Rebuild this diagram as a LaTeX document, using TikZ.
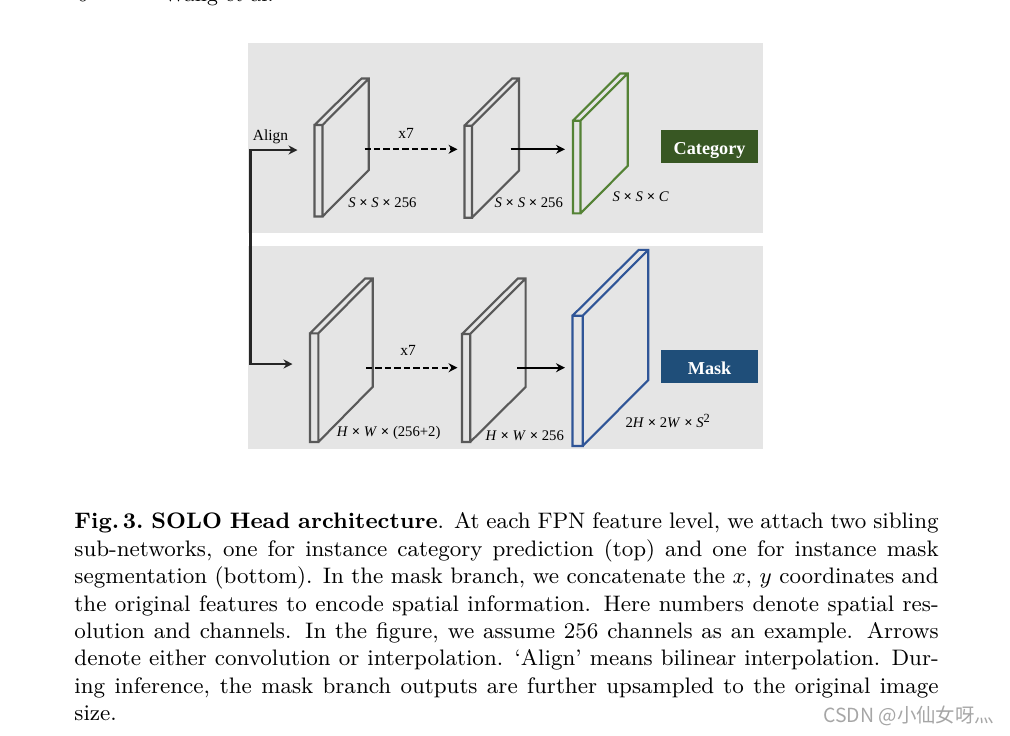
\documentclass[tikz,border=0pt]{standalone}
\usepackage{fontspec}
\newfontfamily\figfont{Liberation Serif}
\newfontfamily\markfont{Noto Sans CJK SC}
\usetikzlibrary{arrows.meta}
\definecolor{panelgray}{HTML}{E5E5E5}
\definecolor{platedark}{HTML}{595959}
\definecolor{plategreen}{HTML}{548235}
\definecolor{plateblue}{HTML}{2F5597}
\definecolor{catfill}{HTML}{385723}
\definecolor{maskfill}{HTML}{1F4E79}
\begin{document}
\begin{tikzpicture}[x=0.4014pt, y=-0.4014pt]
    \tikzstyle{panel} = [fill=panelgray, draw=none]
    \tikzstyle{plate} = [line width=0.85pt, line join=miter]
    \tikzstyle{arrow} = [line width=0.85pt,->,>={Stealth[length=3.6pt,width=3.6pt]}]
    \tikzstyle{dasharrow} = [arrow, dash pattern=on 2.5pt off 1.3pt]
    \tikzstyle{dimtext} = [font=\figfont\fontsize{5.9}{7}\selectfont, inner sep=0pt]
    \tikzstyle{smalltext} = [font=\figfont\fontsize{6.2}{7}\selectfont, inner sep=0pt]
    \tikzstyle{outbox} = [font=\figfont\bfseries\fontsize{7.3}{8}\selectfont, text=white, minimum width=39.2pt, text height=9.8pt, text depth=3.6pt, inner sep=0pt]
    \tikzstyle{headtext} = [anchor=base west, inner sep=0pt, font=\fontsize{8.5}{11}\selectfont]

    \useasboundingbox (0,0) rectangle (1010,735);
    \clip (0,0) rectangle (1010,735);

    % Header
    \node [headtext] (pagenum) at (77,1) {6};
    \node [headtext] (running) at (163,1) {Wang et al.};

    % Panels
    \fill [panel] (248,43) rectangle (763,233);
    \fill [panel] (248,246) rectangle (763,449);

    % Category branch
    \draw [plate, platedark] (314.5,125) rectangle (322.5,216.5) (314.5,125) -- (361.5,78.5) -- (368.8,78.5) -- (368.8,170) -- (322.5,216.5) (322.5,125) -- (368.8,78.5);
    \draw [plate, platedark] (464.5,125.7) rectangle (472,217.7) (464.5,125.7) -- (512,78.5) -- (519,78.5) -- (519,170.7) -- (472,217.7) (472,125.7) -- (519,78.5);
    \draw [plate, plategreen] (573,120.7) rectangle (580.5,213.3) (573,120.7) -- (620,73.5) -- (627.7,73.5) -- (627.7,166) -- (580.5,213.3) (580.5,120.7) -- (627.7,73.5);
    \node [outbox, fill=catfill] (category) at (709.6,146.7) {Category};

    % Mask branch
    \draw [plate, platedark] (310,333.3) rectangle (318.4,442) (310,333.3) -- (365,278.5) -- (372.8,278.5) -- (372.8,386.7) -- (318.4,442) (318.4,333.3) -- (372.8,278.5);
    \draw [plate, platedark] (462,334) rectangle (470.2,442) (462,334) -- (517.8,278.5) -- (525.6,278.5) -- (525.6,387) -- (470.2,442) (470.2,334) -- (525.6,278.5);
    \draw [plate, plateblue] (572.5,315.7) rectangle (582.7,446) (572.5,315.7) -- (638.8,249.8) -- (648.3,249.8) -- (648.3,380) -- (582.7,446) (582.7,315.7) -- (648.3,249.8);
    \node [outbox, fill=maskfill] (mask) at (709.6,366.7) {Mask};

    % Arrow ends
    \coordinate (branch) at (250.5,240);
    \coordinate (aligntop) at (297.5,150);
    \coordinate (alignbot) at (292.5,364);
    \coordinate (catdashs) at (364.5,149.3);
    \coordinate (catdashe) at (457.5,149.3);
    \coordinate (catsolids) at (510.5,149.3);
    \coordinate (catsolide) at (565,149.3);
    \coordinate (maskdashs) at (366,367.7);
    \coordinate (maskdashe) at (457.5,367.7);
    \coordinate (masksolids) at (517,367.7);
    \coordinate (masksolide) at (565,367.7);

    \draw [arrow, <->, black!85] (aligntop) -| (branch) |- (alignbot);
    \draw [dasharrow] (catdashs) -- (catdashe);
    \draw [arrow] (catsolids) -- (catsolide);
    \draw [dasharrow] (maskdashs) -- (maskdashe);
    \draw [arrow] (masksolids) -- (masksolide);

    % Labels
    \node [smalltext] (align) at (270.5,136.5) {Align};
    \node [smalltext] (catseven) at (406,133) {x7};
    \node [smalltext] (maskseven) at (408,350) {x7};
    \node [dimtext] (catdim1) at (382.4,202.5) {\textit{S} {\bfseries×} \textit{S} {\bfseries×} 256};
    \node [dimtext] (catdim2) at (528.8,203) {\textit{S} {\bfseries×} \textit{S} {\bfseries×} 256};
    \node [dimtext] (catdim3) at (640.7,197) {\textit{S} {\bfseries×} \textit{S} {\bfseries×} \textit{C}};
    \node [dimtext] (maskdim1) at (388.7,432.7) {\textit{H} {\bfseries×} \textit{W} {\bfseries×} (256+2)};
    \node [dimtext] (maskdim2) at (524.8,435.7) {\textit{H} {\bfseries×} \textit{W} {\bfseries×} 256};
    \node [dimtext] (maskdim3) at (667.7,421) {2\textit{H} {\bfseries×} 2\textit{W} {\bfseries×} \textit{S}\raisebox{1.8pt}{\fontsize{5}{6}\selectfont 2}};

    % Caption
    \node [anchor=north west, inner sep=0pt, text width=346.9pt, align=justify, font=\fontsize{9}{11}\selectfont] (caption) at (74,512.3) {\textbf{Fig.\,3.\ SOLO Head architecture}. At each FPN feature level, we attach two sibling sub-networks, one for instance category prediction (top) and one for instance mask segmentation (bottom). In the mask branch, we concatenate the $x$, $y$ coordinates and\linebreak the original features to encode spatial information. Here numbers denote spatial res-\linebreak olution and channels. In the figure, we assume 256 channels as an example. Arrows\linebreak denote either convolution or interpolation. `Align' means bilinear interpolation. Dur-\linebreak ing inference, the mask branch outputs are further upsampled to the original image\linebreak size.};

    % Watermark
    \node [anchor=west, inner sep=0pt, text=black!35, font=\markfont\fontsize{7.8}{9}\selectfont] (watermark) at (823,716) {CSDN @小仙女呀灬};
\end{tikzpicture}
\end{document}
